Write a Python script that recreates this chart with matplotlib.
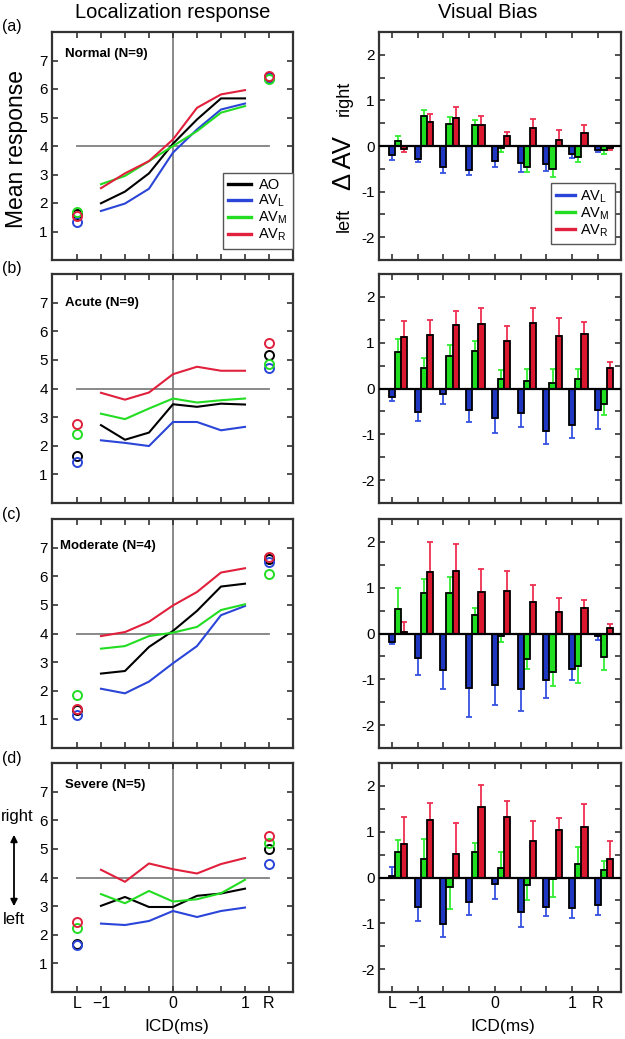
import numpy as np
import matplotlib
matplotlib.use('Agg')
import matplotlib.pyplot as plt
from matplotlib.lines import Line2D
from matplotlib.ticker import MultipleLocator

plt.rcParams['font.family'] = ['Liberation Sans', 'DejaVu Sans']
plt.rcParams['mathtext.fontset'] = 'custom'
plt.rcParams['mathtext.rm'] = 'Liberation Sans'
plt.rcParams['mathtext.it'] = 'Liberation Sans:italic'

# ---------------- data ----------------
positions = ['L', '−1', '', '', '0', '', '', '1', 'R']   # L, ICD -1..1 (ms) in 1/3 steps, R
panel_titles = ['Normal (N=9)', 'Acute (N=9)', 'Moderate (N=4)', 'Severe (N=5)']
panel_letters = ['(a)', '(b)', '(c)', '(d)']

# Localization response (first/last value = L / R markers, middle 7 = ICD lines)
normal_AO  = [1.60, 1.99, 2.40, 3.04, 4.08, 4.93, 5.67, 5.67, 6.43]
normal_AVL = [1.34, 1.72, 1.98, 2.50, 3.77, 4.58, 5.28, 5.49, 6.40]
normal_AVM = [1.70, 2.66, 2.95, 3.47, 4.00, 4.52, 5.17, 5.40, 6.36]
normal_AVR = [1.53, 2.52, 3.04, 3.47, 4.23, 5.34, 5.81, 5.96, 6.45]

acute_AO  = [1.63, 2.72, 2.21, 2.46, 3.45, 3.36, 3.47, 3.44, 5.17]
acute_AVL = [1.43, 2.19, 2.10, 1.99, 2.83, 2.83, 2.54, 2.66, 4.70]
acute_AVM = [2.42, 3.12, 2.93, 3.30, 3.65, 3.51, 3.59, 3.65, 4.85]
acute_AVR = [2.75, 3.85, 3.61, 3.86, 4.50, 4.76, 4.62, 4.62, 5.58]

moderate_AO  = [1.33, 2.60, 2.69, 3.53, 4.09, 4.79, 5.64, 5.74, 6.62]
moderate_AVL = [1.17, 2.07, 1.91, 2.32, 2.96, 3.56, 4.64, 4.96, 6.51]
moderate_AVM = [1.85, 3.47, 3.56, 3.91, 4.03, 4.23, 4.82, 5.02, 6.07]
moderate_AVR = [1.37, 3.91, 4.05, 4.41, 4.98, 5.45, 6.13, 6.28, 6.67]

severe_AO  = [1.67, 3.01, 3.32, 2.97, 2.97, 3.36, 3.44, 3.61, 4.99]
severe_AVL = [1.64, 2.39, 2.34, 2.48, 2.83, 2.62, 2.83, 2.95, 4.47]
severe_AVM = [2.25, 3.42, 3.10, 3.53, 3.16, 3.24, 3.45, 3.92, 5.20]
severe_AVR = [2.46, 4.27, 3.85, 4.49, 4.29, 4.14, 4.47, 4.68, 5.44]

# Visual bias (delta AV) means and error magnitudes
normal_bias_AVL = [-0.20, -0.29, -0.47, -0.52, -0.33, -0.38, -0.40, -0.17, -0.09]
normal_err_AVL  = [0.10, 0.07, 0.12, 0.12, 0.14, 0.19, 0.14, 0.10, 0.04]
normal_bias_AVM = [0.11, 0.65, 0.49, 0.47, -0.04, -0.47, -0.51, -0.25, -0.09]
normal_err_AVM  = [0.11, 0.15, 0.15, 0.10, 0.09, 0.10, 0.16, 0.11, 0.09]
normal_bias_AVR = [-0.06, 0.52, 0.62, 0.46, 0.23, 0.40, 0.13, 0.29, -0.05]
normal_err_AVR  = [0.08, 0.19, 0.23, 0.19, 0.07, 0.19, 0.21, 0.16, 0.04]

acute_bias_AVL = [-0.18, -0.51, -0.12, -0.47, -0.64, -0.53, -0.93, -0.80, -0.47]
acute_err_AVL  = [0.10, 0.20, 0.22, 0.26, 0.33, 0.32, 0.29, 0.27, 0.41]
acute_bias_AVM = [0.80, 0.44, 0.72, 0.82, 0.20, 0.16, 0.12, 0.20, -0.33]
acute_err_AVM  = [0.27, 0.22, 0.23, 0.22, 0.20, 0.26, 0.30, 0.22, 0.25]
acute_bias_AVR = [1.13, 1.17, 1.39, 1.41, 1.04, 1.42, 1.15, 1.19, 0.45]
acute_err_AVR  = [0.35, 0.33, 0.30, 0.34, 0.33, 0.33, 0.40, 0.26, 0.12]

moderate_bias_AVL = [-0.18, -0.53, -0.79, -1.19, -1.12, -1.21, -1.01, -0.77, -0.06]
moderate_err_AVL  = [0.04, 0.37, 0.42, 0.64, 0.44, 0.48, 0.40, 0.24, 0.09]
moderate_bias_AVM = [0.54, 0.88, 0.88, 0.40, -0.06, -0.55, -0.84, -0.70, -0.52]
moderate_err_AVM  = [0.45, 0.32, 0.36, 0.16, 0.12, 0.22, 0.31, 0.38, 0.27]
moderate_bias_AVR = [0.03, 1.35, 1.36, 0.91, 0.93, 0.69, 0.47, 0.55, 0.11]
moderate_err_AVR  = [0.23, 0.65, 0.59, 0.49, 0.43, 0.36, 0.30, 0.19, 0.09]

severe_bias_AVL = [0.04, -0.65, -1.02, -0.53, -0.15, -0.76, -0.65, -0.67, -0.59]
severe_err_AVL  = [0.20, 0.30, 0.28, 0.28, 0.33, 0.31, 0.18, 0.22, 0.22]
severe_bias_AVM = [0.56, 0.41, -0.21, 0.56, 0.21, -0.16, -0.04, 0.30, 0.17]
severe_err_AVM  = [0.25, 0.44, 0.48, 0.20, 0.35, 0.34, 0.39, 0.37, 0.20]
severe_bias_AVR = [0.74, 1.26, 0.52, 1.53, 1.32, 0.80, 1.04, 1.10, 0.41]
severe_err_AVR  = [0.59, 0.37, 0.67, 0.48, 0.36, 0.44, 0.26, 0.51, 0.38]

loc_data = [
    (normal_AO, normal_AVL, normal_AVM, normal_AVR),
    (acute_AO, acute_AVL, acute_AVM, acute_AVR),
    (moderate_AO, moderate_AVL, moderate_AVM, moderate_AVR),
    (severe_AO, severe_AVL, severe_AVM, severe_AVR),
]
bias_data = [
    ((normal_bias_AVL, normal_err_AVL), (normal_bias_AVM, normal_err_AVM), (normal_bias_AVR, normal_err_AVR)),
    ((acute_bias_AVL, acute_err_AVL), (acute_bias_AVM, acute_err_AVM), (acute_bias_AVR, acute_err_AVR)),
    ((moderate_bias_AVL, moderate_err_AVL), (moderate_bias_AVM, moderate_err_AVM), (moderate_bias_AVR, moderate_err_AVR)),
    ((severe_bias_AVL, severe_err_AVL), (severe_bias_AVM, severe_err_AVM), (severe_bias_AVR, severe_err_AVR)),
]
text_x = [-0.5, -0.5, -0.71, -0.5]
text_y = [7.23, 6.99, 7.06, 7.23]

# ---------------- styling ----------------
line_colors = ['black', '#2a45d8', '#22dd22', '#e0203c']
bar_colors = ['#1e36c0', '#1fdd1f', '#d9182f']
err_colors = ['#3552e0', '#33ee33', '#ee3050']
leg_labels_left = ['AO', 'AV$_\\mathrm{L}$', 'AV$_\\mathrm{M}$', 'AV$_\\mathrm{R}$']
spine_col = '#333333'

W, H = 625, 1039
fig = plt.figure(figsize=(W / 100, H / 100), dpi=100)


def px_axes(x0, x1, y0, y1):
    return fig.add_axes([x0 / W, 1 - y1 / H, (x1 - x0) / W, (y1 - y0) / H])


def style_legend(leg):
    leg.get_frame().set_edgecolor('#555555')
    leg.get_frame().set_linewidth(1.0)


rows = [(32, 260), (274, 503), (519, 748), (763, 992)]
xidx = np.arange(len(positions))

for r, (y0, y1) in enumerate(rows):
    # ---------- left: localization response ----------
    ax = px_axes(52, 293, y0, y1)
    ax.set_xlim(-1.04, 9.0)
    ax.set_ylim(0, 8)
    ax.plot([0, 8], [4, 4], color='#808080', lw=1.3, zorder=1)
    ax.axvline(4, color='#808080', lw=1.3, zorder=1)
    for k, series in enumerate(loc_data[r]):
        s = np.array(series)
        ax.plot(xidx[1:8], s[1:8], color=line_colors[k], lw=1.5, zorder=3)
        ax.plot(xidx[[0, 8]], s[[0, 8]], ls='none', marker='o', ms=6.5,
                mfc='none', mec=line_colors[k], mew=1.4, zorder=4)
    ax.set_xticks(xidx)
    ax.set_yticks(range(1, 8))
    ax.tick_params(direction='in', top=True, right=True, length=4, width=1.2,
                   color=spine_col, labelsize=11, pad=3)
    if r == 3:
        ax.set_xticklabels(positions, fontsize=11.5)
    else:
        ax.set_xticklabels([])
    for sp in ax.spines.values():
        sp.set_color(spine_col)
        sp.set_linewidth(1.6)
    ax.text(text_x[r], text_y[r], panel_titles[r], fontsize=9.5, fontweight='bold', va='center', ha='left')
    fig.text(2 / W, 1 - (y0 - 5) / H, panel_letters[r], fontsize=11.5, va='center', ha='left')
    if r == 0:
        handles = [Line2D([], [], color=c, lw=2.4) for c in line_colors]
        leg = ax.legend(handles, leg_labels_left, loc='lower right', bbox_to_anchor=(1.0, 0.05),
                        borderaxespad=0, fontsize=10.5, handlelength=1.6, handletextpad=0.5,
                        labelspacing=0.05, fancybox=False, framealpha=1, borderpad=0.35)
        style_legend(leg)

    # ---------- right: visual bias ----------
    bx = px_axes(379, 621, y0, y1)
    bx.set_xlim(-0.5, 8.9)
    bx.set_ylim(-2.5, 2.5)
    bw = 0.24
    for k, (vals, errs) in enumerate(bias_data[r]):
        v = np.array(vals)
        e = np.array(errs)
        lo = np.where(v < 0, e, 0.0)
        hi = np.where(v >= 0, e, 0.0)
        xs = xidx + k * bw
        bx.errorbar(xs, v, yerr=[lo, hi], fmt='none', ecolor=err_colors[k],
                    elinewidth=1.3, capsize=2.2, capthick=1.3, zorder=2)
        bx.bar(xs, v, width=bw, color=bar_colors[k], edgecolor='black', linewidth=1.3, zorder=3)
    bx.axhline(0, color='black', lw=1.6, zorder=4)
    bx.set_xticks(xidx)
    bx.set_yticks(range(-2, 3))
    bx.set_yticklabels(['-2', '-1', '0', '1', '2'])
    bx.yaxis.set_minor_locator(MultipleLocator(0.5))
    bx.tick_params(which='both', direction='in', top=True, right=True, length=4, width=1.2,
                   color=spine_col, labelsize=11, pad=3)
    if r == 3:
        bx.set_xticklabels(positions, fontsize=11.5)
    else:
        bx.set_xticklabels([])
    for sp in bx.spines.values():
        sp.set_color(spine_col)
        sp.set_linewidth(1.6)
    if r == 0:
        handles = [Line2D([], [], color=c, lw=2.4) for c in line_colors[1:]]
        leg = bx.legend(handles, leg_labels_left[1:], loc='lower right', bbox_to_anchor=(0.975, 0.07),
                        borderaxespad=0, fontsize=10.5, handlelength=1.3, handletextpad=0.4,
                        labelspacing=0.05, fancybox=False, framealpha=1, borderpad=0.35)
        style_legend(leg)

# ---------------- titles and labels ----------------
fig.text(172.5 / W, 1 - 13 / H, 'Localization response', fontsize=14.5, ha='center', va='center')
fig.text(488 / W, 1 - 13 / H, 'Visual Bias', fontsize=14.5, ha='center', va='center')
fig.text(17 / W, 1 - 149 / H, 'Mean response', fontsize=16.5, rotation=90, ha='center', va='center')
fig.text(344 / W, 1 - 98 / H, 'right', fontsize=13, rotation=90, ha='center', va='center')
fig.text(344 / W, 1 - 163 / H, 'Δ AV', fontsize=18.5, rotation=90, ha='center', va='center')
fig.text(344 / W, 1 - 220 / H, 'left', fontsize=13, rotation=90, ha='center', va='center')
fig.text(33 / W, 1 - 817 / H, 'right', fontsize=12, ha='right', va='center')
fig.text(14 / W, 1 - 919 / H, 'left', fontsize=12, ha='center', va='center')
fig.add_artist(matplotlib.patches.FancyArrowPatch((14 / W, 1 - 832 / H), (14 / W, 1 - 909 / H),
                                                  transform=fig.transFigure, arrowstyle='<|-|>',
                                                  mutation_scale=10, color='black', lw=1.3))
fig.text(177 / W, 1 - 1027 / H, 'ICD(ms)', fontsize=12.5, ha='center', va='center')
fig.text(503 / W, 1 - 1027 / H, 'ICD(ms)', fontsize=12.5, ha='center', va='center')

fig.savefig('out.png', dpi=100)
